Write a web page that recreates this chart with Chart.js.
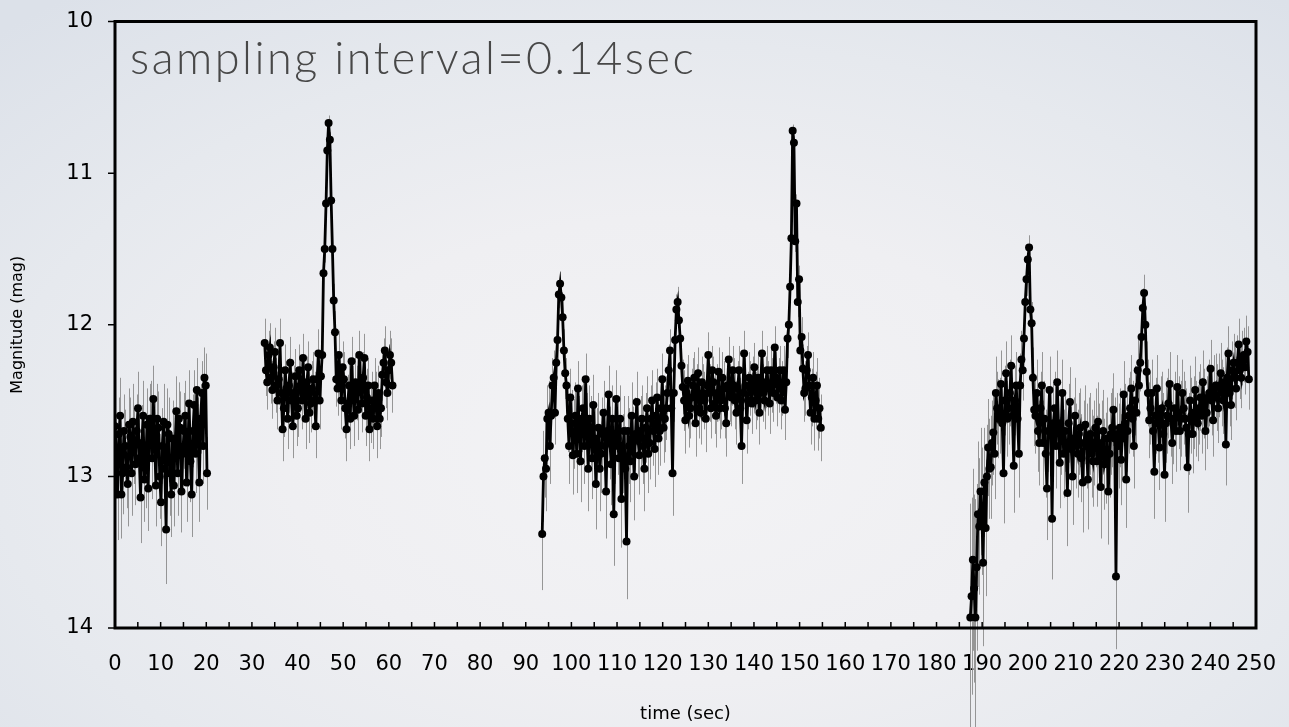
<!DOCTYPE html>
<html>
<head>
<meta charset="utf-8">
<title>Light curve</title>
<script src="https://cdn.jsdelivr.net/npm/chart.js@4.4.1/dist/chart.umd.min.js"></script>
<style>
  html, body { margin: 0; padding: 0; }
  body {
    width: 1289px; height: 727px; overflow: hidden;
    background: radial-gradient(ellipse 75% 80% at 52% 62%, #f3f3f5 0%, #efeff2 40%, #e6e9ee 70%, #dce1e9 100%);
  }
  canvas { display: block; }
</style>
</head>
<body>
<canvas id="c" width="1289" height="727"></canvas>
<script>
// Frames are plotted every 0.28 s (every 2nd frame of the 0.14 s cadence):
// "even" frames start at segmentStart, "odd" frames half a step later.
const STEP = 0.56;
const segmentStart = [0, 32.8, 93.6, 187.4];

// Magnitudes, even frames
const magA = [12.67,13.12,12.60,12.98,12.80,13.05,12.74,12.64,12.92,12.55,13.14,12.60,12.95,13.08,12.62,12.49,13.06,12.68,13.17,12.64,
  13.35,12.72,13.12,13.06,12.57,12.62,13.10,12.70,13.04,12.52,13.12,12.53,12.43,13.04,12.45,12.35,12.98];
const magB = [12.12,12.38,12.15,12.43,12.18,12.50,12.12,12.69,12.30,12.62,12.25,12.67,12.34,12.55,12.40,12.22,12.62,12.28,12.52,12.36,
  12.67,12.19,12.34,11.66,11.20,10.67,11.18,11.84,12.36,12.20,12.50,12.36,12.69,12.40,12.24,12.60,12.45,12.20,12.52,12.22,
  12.48,12.69,12.50,12.40,12.67,12.62,12.33,12.17,12.45,12.20,12.40];
const magC = [13.38,12.88,12.62,12.80,12.40,12.58,12.10,11.73,11.95,12.32,12.62,12.48,12.86,12.60,12.42,12.90,12.55,12.36,12.95,12.70,
  12.53,13.05,12.68,12.85,12.58,13.10,12.46,12.92,13.25,12.49,12.88,13.15,12.70,13.43,12.80,12.60,13.00,12.51,12.86,12.62,
  12.95,12.55,12.78,12.50,12.82,12.48,12.70,12.36,12.62,12.45,12.17,12.98,12.10,11.85,12.09,12.41,12.63,12.37,12.55,12.40,
  12.65,12.32,12.58,12.45,12.62,12.20,12.55,12.38,12.60,12.31,12.50,12.42,12.65,12.23,12.48,12.40,12.58,12.30,12.80,12.19,
  12.63,12.35,12.52,12.28,12.45,12.58,12.19,12.50,12.30,12.52,12.40,12.15,12.48,12.30,12.42,12.56,12.09,11.75,10.72,11.45,
  11.85,12.17,12.29,12.42,12.20,12.58,12.35,12.50,12.62,12.68];
const magD = [13.93,13.55,13.93,13.25,13.10,13.57,13.34,12.81,12.94,12.71,12.45,12.62,12.39,12.98,12.32,12.55,12.27,12.93,12.40,12.85,
  12.23,12.09,11.70,11.49,11.99,12.56,12.45,12.78,12.40,12.62,13.08,12.43,13.28,12.55,12.38,12.91,12.45,12.70,13.11,12.51,
  13.00,12.60,12.85,12.68,13.04,12.66,13.02,12.72,12.90,12.68,12.64,13.07,12.70,12.88,13.10,12.72,12.56,13.66,12.80,12.89,
  12.46,13.02,12.60,12.42,12.80,12.58,12.40,12.08,11.79,12.31,12.63,12.45,12.97,12.42,12.81,12.55,12.99,12.60,12.39,12.78,
  12.55,12.41,12.70,12.45,12.62,12.94,12.50,12.72,12.43,12.65,12.48,12.38,12.70,12.48,12.29,12.63,12.40,12.55,12.32,12.50,
  12.79,12.19,12.53,12.25,12.42,12.13,12.35,12.20,12.11,12.36];

// Magnitudes, odd frames
const magA2 = [12.85,12.72,13.12,12.70,12.94,12.66,12.98,12.80,12.70,12.88,12.78,13.02,12.66,12.62,12.88,12.76,12.62,13.00,12.80,12.95,
  12.66,12.98,12.75,12.80,12.98,12.68,12.85,12.60,12.82,12.90,12.70,12.85,12.72,12.62,12.80,12.40];
const magB2 = [12.30,12.20,12.35,12.28,12.40,12.36,12.45,12.55,12.42,12.40,12.50,12.45,12.60,12.30,12.50,12.45,12.38,12.58,12.42,12.50,
  12.36,12.50,12.20,11.50,10.85,10.78,11.50,12.05,12.42,12.35,12.28,12.55,12.52,12.62,12.45,12.38,12.56,12.40,12.35,12.60,
  12.40,12.58,12.62,12.50,12.45,12.55,12.25,12.38,12.30,12.25];
const magC2 = [13.00,12.95,12.58,12.60,12.35,12.25,11.80,11.82,12.17,12.40,12.80,12.65,12.72,12.85,12.70,12.62,12.80,12.68,12.62,12.88,
  12.75,12.80,12.95,12.72,12.80,12.70,12.78,12.62,12.80,12.75,12.62,12.85,12.95,12.70,12.90,12.78,12.72,12.76,12.70,12.80,
  12.68,12.85,12.62,12.70,12.60,12.75,12.55,12.68,12.55,12.30,12.55,12.45,11.90,11.97,12.27,12.50,12.45,12.60,12.48,12.35,
  12.45,12.55,12.38,12.50,12.40,12.45,12.30,12.52,12.45,12.55,12.35,12.55,12.40,12.45,12.30,12.50,12.42,12.55,12.45,12.40,
  12.50,12.42,12.38,12.50,12.35,12.40,12.45,12.38,12.42,12.30,12.45,12.35,12.40,12.50,12.30,12.38,12.00,11.43,10.80,11.20,
  11.70,12.08,12.45,12.30,12.40,12.48,12.62,12.40,12.55];
const magD2 = [13.79,13.74,13.60,13.33,13.23,13.04,13.00,12.95,12.78,12.85,12.55,12.60,12.65,12.50,12.62,12.45,12.60,12.50,12.62,12.40,
  12.30,11.85,11.57,11.90,12.35,12.60,12.70,12.55,12.78,12.85,12.70,12.72,12.65,12.80,12.65,12.72,12.85,12.80,12.65,12.82,
  12.75,12.80,12.72,12.88,12.78,12.80,12.75,12.85,12.78,12.90,12.80,12.78,12.92,12.75,12.85,12.68,12.75,12.72,12.68,12.75,
  12.65,12.70,12.55,12.62,12.50,12.30,12.25,11.89,12.00,12.45,12.55,12.70,12.60,12.65,12.58,12.72,12.65,12.52,12.62,12.66,
  12.70,12.58,12.62,12.55,12.68,12.72,12.60,12.58,12.62,12.55,12.60,12.52,12.58,12.45,12.50,12.42,12.48,12.40,12.45,12.38,
  12.35,12.45,12.30,12.35,12.25,12.30,12.22,12.28,12.18];

// 1-sigma magnitude errors, even frames
const errA = [0.30,0.30,0.25,0.27,0.24,0.28,0.26,0.25,0.27,0.24,0.30,0.23,0.26,0.28,0.25,0.22,0.27,0.24,0.29,0.25,
  0.36,0.24,0.28,0.27,0.23,0.24,0.27,0.25,0.26,0.22,0.28,0.23,0.21,0.26,0.21,0.20,0.24];
const errB = [0.16,0.18,0.16,0.19,0.16,0.19,0.16,0.21,0.17,0.20,0.17,0.21,0.18,0.19,0.18,0.16,0.20,0.17,0.19,0.18,
  0.21,0.16,0.17,0.10,0.07,0.05,0.07,0.11,0.18,0.16,0.19,0.18,0.21,0.18,0.16,0.20,0.18,0.16,0.19,0.16,
  0.19,0.21,0.19,0.18,0.21,0.20,0.17,0.16,0.18,0.16,0.18];
const errC = [0.37,0.26,0.22,0.25,0.18,0.21,0.13,0.08,0.11,0.17,0.22,0.19,0.26,0.22,0.18,0.27,0.21,0.17,0.28,0.23,
  0.20,0.30,0.23,0.26,0.21,0.31,0.19,0.27,0.34,0.19,0.26,0.32,0.23,0.38,0.25,0.22,0.29,0.20,0.26,0.22,
  0.28,0.21,0.24,0.20,0.25,0.19,0.23,0.17,0.22,0.19,0.14,0.28,0.13,0.10,0.13,0.18,0.22,0.17,0.20,0.18,
  0.22,0.17,0.21,0.19,0.22,0.15,0.20,0.17,0.21,0.16,0.19,0.18,0.22,0.15,0.19,0.18,0.21,0.16,0.25,0.15,
  0.22,0.17,0.20,0.16,0.18,0.21,0.15,0.19,0.16,0.20,0.18,0.14,0.19,0.16,0.18,0.20,0.13,0.09,0.04,0.07,
  0.10,0.14,0.16,0.18,0.15,0.21,0.17,0.19,0.21,0.22];
const errD = [0.75,0.60,0.78,0.48,0.42,0.55,0.45,0.32,0.34,0.28,0.24,0.26,0.22,0.33,0.21,0.24,0.20,0.31,0.22,0.29,
  0.19,0.16,0.11,0.08,0.14,0.24,0.22,0.28,0.22,0.25,0.34,0.22,0.40,0.24,0.21,0.30,0.22,0.27,0.35,0.23,
  0.32,0.25,0.29,0.26,0.33,0.26,0.33,0.27,0.30,0.26,0.26,0.34,0.27,0.30,0.35,0.27,0.24,0.48,0.28,0.30,
  0.22,0.32,0.25,0.22,0.28,0.24,0.21,0.16,0.12,0.20,0.25,0.22,0.31,0.22,0.28,0.24,0.31,0.25,0.21,0.27,
  0.24,0.21,0.26,0.22,0.25,0.30,0.23,0.26,0.22,0.25,0.22,0.21,0.26,0.22,0.19,0.24,0.21,0.23,0.20,0.22,
  0.27,0.18,0.23,0.19,0.21,0.17,0.20,0.18,0.17,0.20];

// 1-sigma magnitude errors, odd frames
const errA2 = [0.26,0.24,0.29,0.24,0.27,0.24,0.28,0.25,0.24,0.27,0.25,0.28,0.24,0.23,0.27,0.25,0.23,0.28,0.25,0.27,
  0.24,0.28,0.25,0.25,0.28,0.24,0.26,0.23,0.25,0.27,0.24,0.26,0.24,0.23,0.25,0.21];
const errB2 = [0.17,0.16,0.17,0.17,0.18,0.17,0.18,0.19,0.18,0.18,0.19,0.18,0.20,0.17,0.19,0.18,0.17,0.20,0.18,0.19,
  0.17,0.19,0.16,0.09,0.05,0.05,0.09,0.14,0.18,0.17,0.17,0.20,0.19,0.20,0.18,0.17,0.20,0.18,0.17,0.20,
  0.18,0.20,0.20,0.19,0.18,0.19,0.16,0.17,0.17,0.16];
const errC2 = [0.30,0.28,0.21,0.22,0.18,0.17,0.09,0.09,0.14,0.18,0.25,0.22,0.23,0.26,0.23,0.22,0.25,0.23,0.22,0.27,
  0.24,0.25,0.28,0.24,0.25,0.23,0.24,0.22,0.25,0.24,0.22,0.26,0.28,0.23,0.27,0.24,0.24,0.24,0.23,0.25,
  0.23,0.26,0.22,0.23,0.22,0.24,0.21,0.23,0.21,0.17,0.21,0.19,0.10,0.11,0.16,0.20,0.19,0.21,0.19,0.17,
  0.19,0.20,0.17,0.19,0.18,0.19,0.16,0.20,0.19,0.20,0.17,0.20,0.18,0.19,0.16,0.19,0.18,0.20,0.19,0.18,
  0.19,0.18,0.17,0.19,0.17,0.18,0.19,0.17,0.18,0.16,0.19,0.17,0.18,0.19,0.16,0.17,0.12,0.07,0.05,0.06,
  0.09,0.13,0.19,0.16,0.18,0.19,0.21,0.18,0.20];
const errD2 = [0.65,0.62,0.55,0.45,0.42,0.36,0.34,0.33,0.28,0.30,0.24,0.25,0.26,0.23,0.25,0.22,0.25,0.23,0.25,0.21,
  0.20,0.12,0.09,0.12,0.20,0.25,0.27,0.24,0.28,0.29,0.27,0.27,0.26,0.28,0.26,0.27,0.29,0.28,0.26,0.28,
  0.27,0.28,0.27,0.29,0.28,0.28,0.27,0.29,0.28,0.30,0.28,0.28,0.30,0.27,0.29,0.26,0.27,0.27,0.26,0.27,
  0.26,0.27,0.24,0.25,0.23,0.20,0.19,0.13,0.14,0.22,0.24,0.27,0.25,0.26,0.24,0.27,0.26,0.23,0.25,0.26,
  0.27,0.24,0.25,0.24,0.26,0.27,0.25,0.24,0.25,0.24,0.25,0.23,0.24,0.22,0.23,0.22,0.22,0.21,0.22,0.21,
  0.20,0.22,0.19,0.20,0.18,0.19,0.18,0.18,0.17];

// Axis ticks
const xTickLabels = [0,10,20,30,40,50,60,70,80,90,100,110,120,130,140,150,160,170,180,190,200,210,220,230,240,250];
const yTickLabels = [10,11,12,13,14];

const titleText = 'sampling interval=0.14sec';
const xTitle = 'time (sec)';
const yTitle = 'Magnitude (mag)';

function framePoints(t0, mags, errs) {
  return mags.map((m, i) => ({ x: +(t0 + i * STEP).toFixed(2), y: m, err: errs[i] }));
}
function segment(t0, mags, errs, mags2, errs2) {
  return framePoints(t0, mags, errs)
    .concat(framePoints(t0 + STEP / 2, mags2, errs2))
    .sort((p, q) => p.x - q.x);
}

const segments = [
  segment(segmentStart[0], magA, errA, magA2, errA2),
  segment(segmentStart[1], magB, errB, magB2, errB2),
  segment(segmentStart[2], magC, errC, magC2, errC2),
  segment(segmentStart[3], magD, errD, magD2, errD2)
];

// Error bars, plot frame, tick marks and the in-plot caption
const decorations = {
  id: 'decorations',
  beforeDatasetsDraw(chart) {
    const { ctx, chartArea: a, scales: { x, y } } = chart;
    ctx.save();
    ctx.strokeStyle = 'rgba(140,140,140,0.9)';
    ctx.lineWidth = 1;
    chart.data.datasets.forEach(ds => {
      ds.data.forEach(p => {
        if (p.err == null) return;
        const px = Math.round(x.getPixelForValue(p.x)) + 0.5;
        ctx.beginPath();
        ctx.moveTo(px, y.getPixelForValue(p.y - p.err));
        ctx.lineTo(px, y.getPixelForValue(p.y + p.err));
        ctx.stroke();
      });
    });

    ctx.strokeStyle = '#000';
    ctx.lineWidth = 3;
    ctx.strokeRect(a.left, a.top, a.right - a.left, a.bottom - a.top);

    ctx.lineWidth = 1.5;
    ctx.beginPath();
    for (let v = xTickLabels[0]; v <= xTickLabels[xTickLabels.length - 1]; v += 5) {
      const px = x.getPixelForValue(v);
      ctx.moveTo(px, a.bottom - 6);
      ctx.lineTo(px, a.bottom);
    }
    yTickLabels.forEach(v => {
      const py = y.getPixelForValue(v);
      ctx.moveTo(a.left - 7, py);
      ctx.lineTo(a.left, py);
    });
    ctx.stroke();

    ctx.fillStyle = '#484848';
    ctx.font = '300 45px Lato, "Open Sans", sans-serif';
    if ('letterSpacing' in ctx) ctx.letterSpacing = '2.5px';
    ctx.textBaseline = 'alphabetic';
    ctx.textAlign = 'left';
    ctx.fillText(titleText, a.left + 15, a.top + 52);
    ctx.restore();
  }
};

Chart.defaults.font.family = '"DejaVu Sans", Verdana, sans-serif';
Chart.defaults.color = '#000';

const datasetStyle = {
  borderColor: '#000',
  borderWidth: 2.8,
  backgroundColor: '#000',
  pointBackgroundColor: '#000',
  pointBorderWidth: 0,
  pointRadius: 4,
  pointHoverRadius: 4,
  tension: 0,
  fill: false
};

new Chart(document.getElementById('c'), {
  type: 'line',
  data: {
    datasets: segments.map((pts, i) => Object.assign({ label: 'segment ' + (i + 1), data: pts }, datasetStyle))
  },
  options: {
    responsive: false,
    animation: false,
    devicePixelRatio: 1,
    layout: { padding: { top: 21.5, right: 33, left: 0, bottom: 0 } },
    plugins: { legend: { display: false }, tooltip: { enabled: false } },
    scales: {
      x: {
        type: 'linear',
        min: xTickLabels[0],
        max: xTickLabels[xTickLabels.length - 1],
        // tick marks are drawn by the decorations plugin; tickLength only spaces the labels
        grid: { display: false, drawTicks: true, tickLength: 24 },
        border: { display: false },
        ticks: {
          stepSize: 10, autoSkip: false, maxRotation: 0, minRotation: 0,
          padding: 0, color: '#000', font: { size: 21 }
        },
        title: { display: true, text: xTitle, color: '#000', font: { size: 18 }, padding: { top: 0, bottom: 2 } },
        afterFit(s) { s.height = 99; }
      },
      y: {
        type: 'linear',
        min: yTickLabels[0],
        max: yTickLabels[yTickLabels.length - 1],
        reverse: true,
        grid: { display: false, drawTicks: true, tickLength: 22 },
        border: { display: false },
        ticks: { stepSize: 1, padding: 0, color: '#000', font: { size: 21 } },
        title: { display: true, text: yTitle, color: '#000', font: { size: 16 }, padding: { top: 8, bottom: 0 } },
        afterFit(s) { s.width = 115; }
      }
    }
  },
  plugins: [decorations]
});
</script>
</body>
</html>
